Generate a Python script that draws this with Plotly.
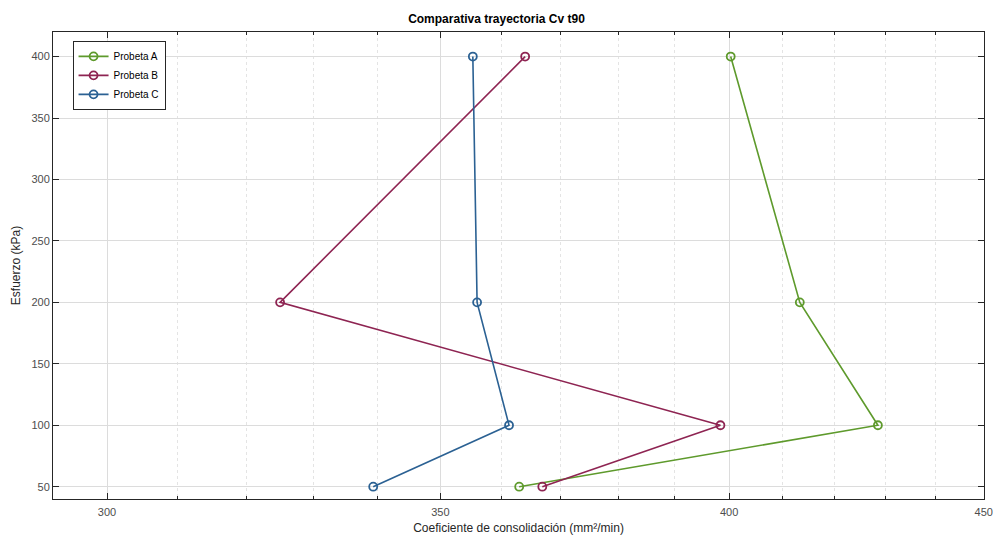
import numpy as np
import plotly.graph_objects as go

esfuerzo = [400, 200, 100, 50]
probeta_a = [400.3, 413.3, 428.5, 363.0]
probeta_b = [364.0, 325.0, 398.4, 366.9]
probeta_c = [355.3, 356.0, 361.3, 339.3]

series = [("Probeta A", probeta_a, "#5E9A2C"),
          ("Probeta B", probeta_b, "#8E2452"),
          ("Probeta C", probeta_c, "#2B6193")]

x_major = [300, 350, 400, 450]
x_minor = [310, 320, 330, 340, 360, 370, 380, 390, 410, 420, 430, 440]
y_ticks = [50, 100, 150, 200, 250, 300, 350, 400]

fig = go.Figure()
for name, vals, col in series:
    fig.add_trace(go.Scatter(
        x=vals, y=esfuerzo, name=name, mode="lines+markers",
        line=dict(color=col, width=1.6),
        marker=dict(symbol="circle-open", size=8, color=col, line=dict(width=1.8, color=col)),
    ))

axis_col = "#262626"
W, H = 993, 536
fig.update_layout(
    width=W, height=H,
    paper_bgcolor="white", plot_bgcolor="white",
    margin=dict(l=53, r=9, t=32, b=37),
    font=dict(family="Liberation Sans, Arial, sans-serif", size=11, color="#262626"),
    title=dict(text="<b>Comparativa trayectoria Cv t90</b>", x=0.5, xanchor="center",
               y=1 - 19/H, yanchor="middle", font=dict(size=12, color="#000000")),
    showlegend=True,
    legend=dict(x=0.021, y=0.981, xanchor="left", yanchor="top",
                bgcolor="white", bordercolor="#262626", borderwidth=1,
                font=dict(size=10, color="#000000"), tracegroupgap=0,
                itemwidth=30),
)
fig.update_xaxes(
    type="log", range=[np.log10(292.6), np.log10(450.05)], automargin=False,
    tickmode="array", tickvals=x_major, ticktext=[str(v) for v in x_major],
    ticks="inside", ticklen=6, tickcolor=axis_col, ticklabelstandoff=3,
    ticklabeloverflow="allow",
    showline=True, linecolor=axis_col, linewidth=1, mirror="allticks",
    showgrid=True, gridcolor="#DCDCDC", gridwidth=1,
    zeroline=False,
    tickfont=dict(size=11, color="#4D4D4D"),
    title=dict(text="Coeficiente de consolidación (mm²/min)", font=dict(size=12, color="#262626"), standoff=6),
    minor=dict(tickmode="array", tickvals=x_minor, ticks="inside", ticklen=3, tickcolor=axis_col,
               showgrid=True, gridcolor="#E4E4E4", griddash="dot", gridwidth=1),
)
fig.update_yaxes(
    range=[40, 420], automargin=False,
    tickmode="array", tickvals=y_ticks,
    ticks="inside", ticklen=6, tickcolor=axis_col,
    showline=True, linecolor=axis_col, linewidth=1, mirror="allticks",
    showgrid=True, gridcolor="#DCDCDC", gridwidth=1,
    zeroline=False,
    tickfont=dict(size=11, color="#4D4D4D"),
    title=dict(text="Esfuerzo (kPa)", font=dict(size=12, color="#262626"), standoff=8),
)

fig.write_html("out.html", config={"displayModeBar": False},
               post_script="document.body.style.margin='0';document.body.style.overflow='hidden';")
